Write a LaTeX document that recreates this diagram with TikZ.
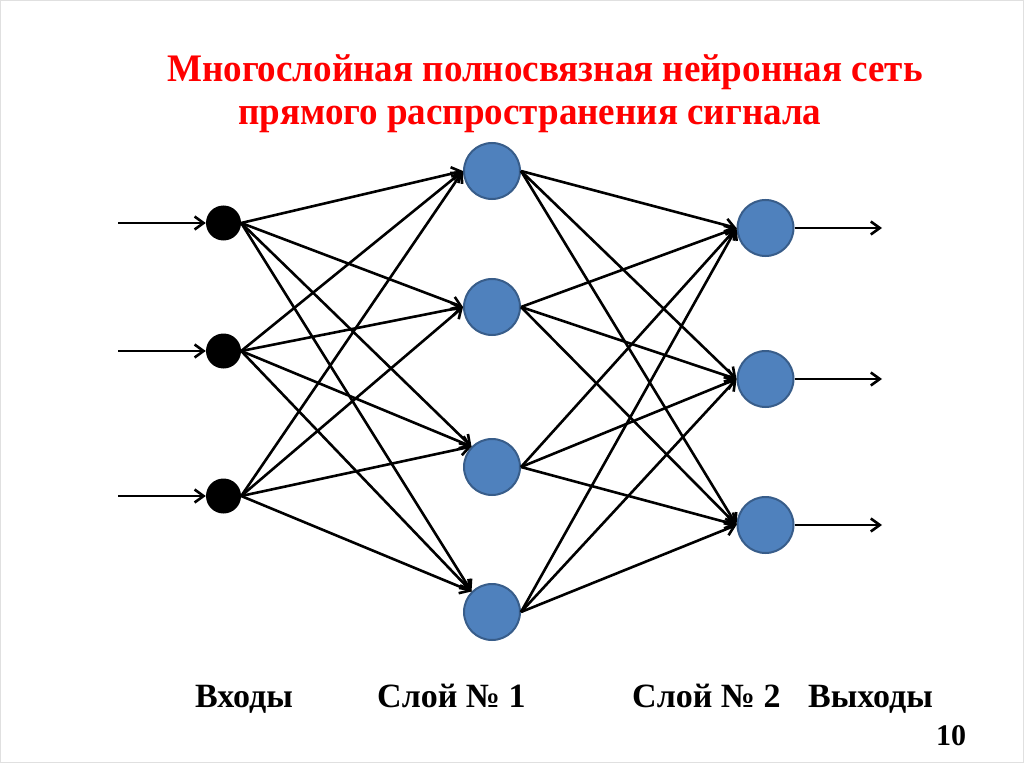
\documentclass[tikz,border=0pt]{standalone}
\usepackage{graphicx}
\usepackage{fontspec}
\setmainfont{Liberation Serif}
\usetikzlibrary{arrows.meta}
\definecolor{nblue}{RGB}{79,129,189}
\definecolor{nborder}{RGB}{56,93,138}
\definecolor{tred}{RGB}{255,0,0}
\begin{document}
\begin{tikzpicture}[x=1pt,y=-1pt,
  inp/.style={circle,fill=black,minimum size=35pt,inner sep=0pt},
  neuron/.style={circle,fill=nblue,draw=nborder,line width=2pt,minimum size=56pt,inner sep=0pt},
  conn/.style={line width=2.6pt,-{Straight Barb[length=9pt,width=13pt,line width=2.6pt]}},
  title/.style={text=tred,font=\fontsize{39}{45}\selectfont\bfseries,anchor=base,inner sep=0pt},
  lbl/.style={font=\fontsize{34}{40}\selectfont\bfseries,anchor=base west,inner sep=0pt}]
\useasboundingbox (0,0) rectangle (1024,767);
\draw[black!12,line width=1pt] (0.5,0.5) rectangle (1023.5,762);

\node[title] (t1) at (545,82) {\scalebox{0.95}[1]{Многослойная полносвязная нейронная сеть}};
\node[title] (t2) at (530,125) {\scalebox{0.95}[1]{прямого распространения сигнала}};

% inputs
\node[inp] (i1) at (223.5,223) {};
\node[inp] (i2) at (223.5,351) {};
\node[inp] (i3) at (223.5,496) {};
% layer 1
\node[neuron] (h1) at (492,171) {};
\node[neuron] (h2) at (492,307) {};
\node[neuron] (h3) at (492,467) {};
\node[neuron] (h4) at (492,612) {};
% layer 2
\node[neuron] (o1) at (765.5,228) {};
\node[neuron] (o2) at (765.5,379) {};
\node[neuron] (o3) at (765.5,525) {};

% input arrows
\coordinate (ax) at (118,0);
\foreach \k in {1,2,3} \draw[conn] (i\k.west -| ax) -- (i\k.west);

% outputs
\coordinate (bx) at (882,0);
\foreach \k in {1,2,3} \draw[conn] (o\k.east) -- (o\k.east -| bx);

% input -> layer 1
\foreach \k in {1,2,3} {
  \draw[conn] (i\k.east) -- (h1.west);
  \draw[conn] (i\k.east) -- (h2.west);
  \draw[conn] (i\k.east) -- (h3.north west);
  \draw[conn] (i\k.east) -- (h4.north west);
}
% layer 1 -> layer 2
\foreach \j in {1,2,3,4} {
  \foreach \k in {1,2,3} {
    \draw[conn] (h\j.east) -- (o\k.west);
  }
}

\node[lbl] (l1) at (195,707) {Входы};
\node[lbl] (l2) at (377,707) {Слой № 1};
\node[lbl] (l3) at (632,707) {Слой № 2};
\node[lbl] (l4) at (808,707) {Выходы};
\node[lbl,font=\fontsize{30}{36}\selectfont\bfseries] (pg) at (936,745) {10};
\end{tikzpicture}
\end{document}
